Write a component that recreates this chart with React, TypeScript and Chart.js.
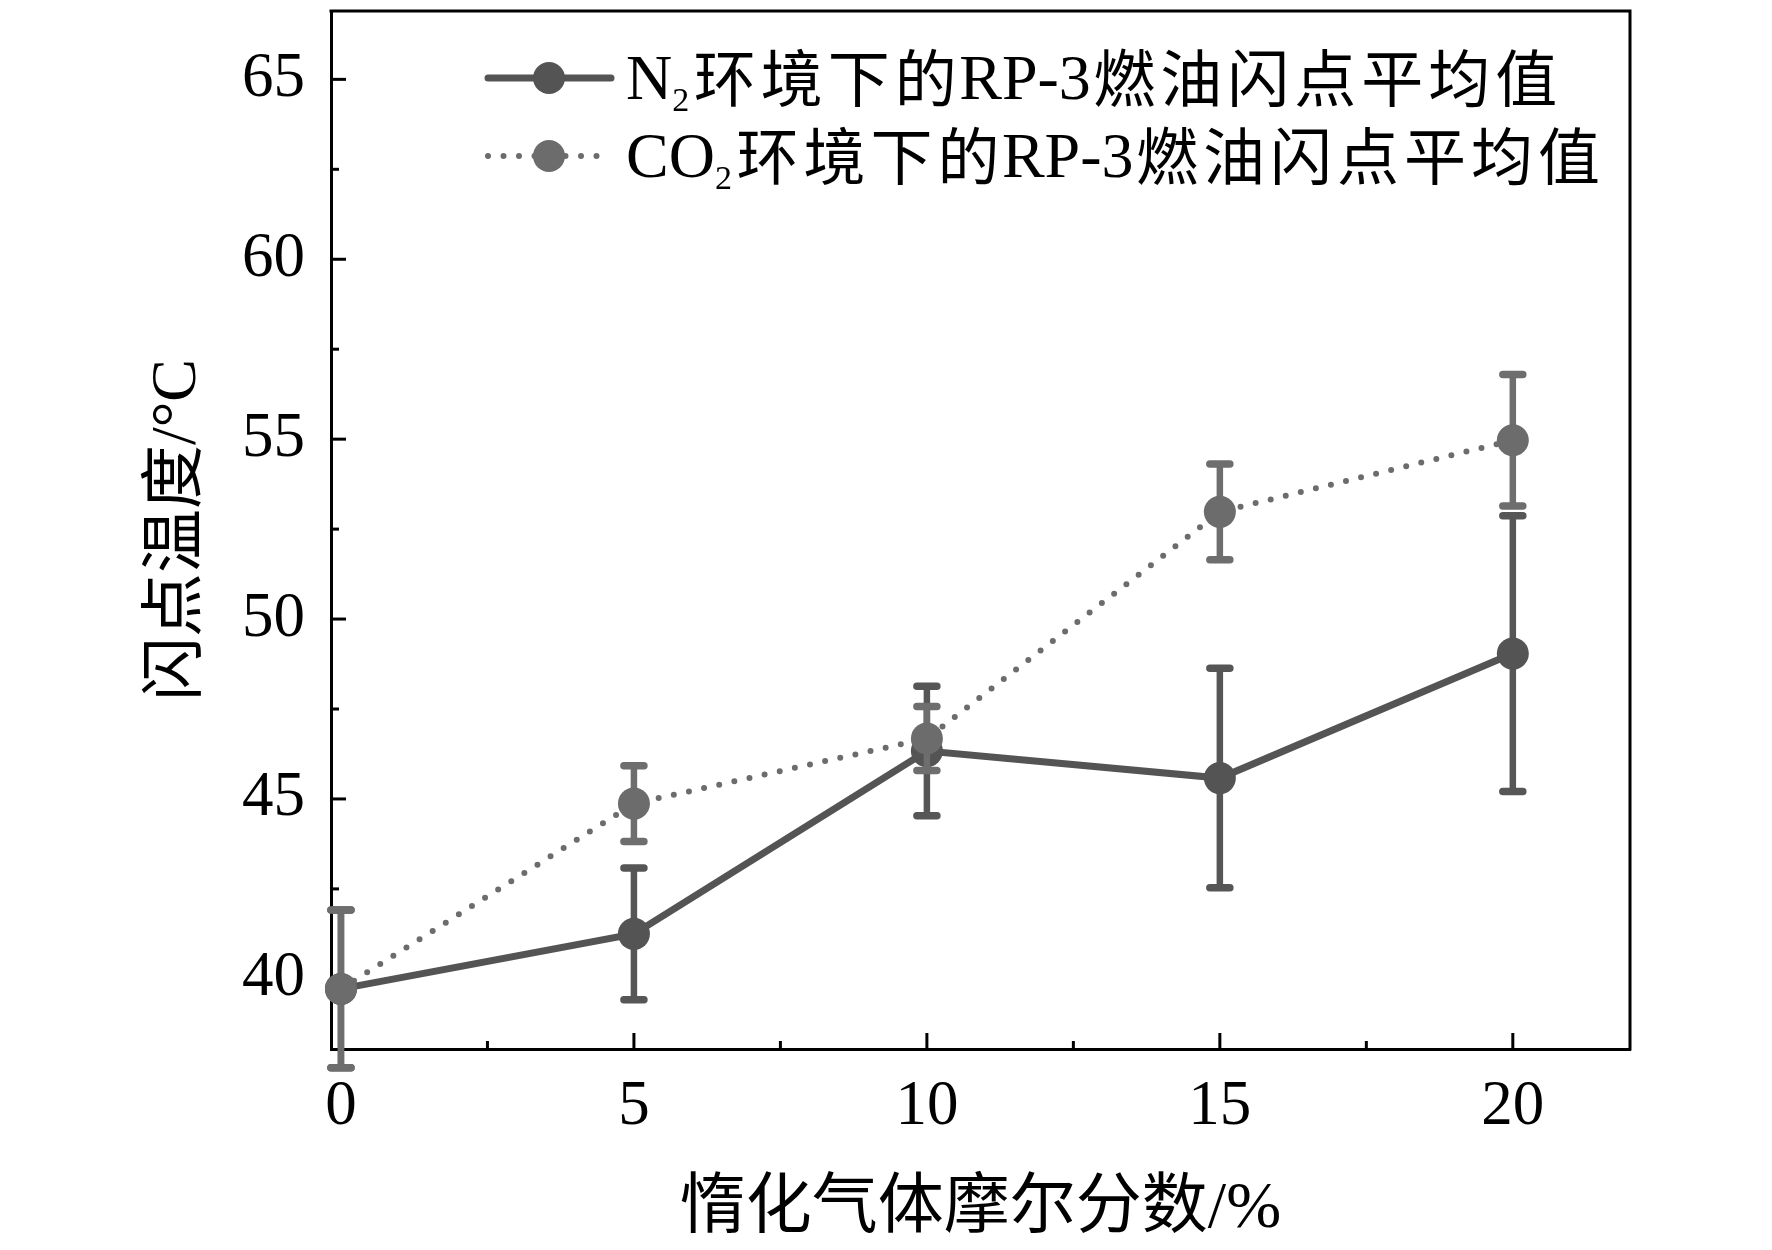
import React, { useEffect, useRef } from 'react';
import { Chart, registerables } from 'chart.js';

Chart.register(...registerables);

// ---- data ----
const xValues = [0, 5, 10, 15, 20];
const n2Mean = [39.72, 41.25, 46.33, 45.58, 49.04];
const n2Err = [2.19, 1.83, 1.8, 3.05, 3.83];
const co2Mean = [39.72, 44.87, 46.68, 52.98, 54.97];
const co2Err = [2.19, 1.05, 0.89, 1.33, 1.83];

const xTickValues = [0, 5, 10, 15, 20];
const xMinorTicks = [2.5, 7.5, 12.5, 17.5];
const yTickValues = [40, 45, 50, 55, 60, 65];
const yMinorTicks = [42.5, 47.5, 52.5, 57.5, 62.5];

const n2Label = 'N₂环境下的RP-3燃油闪点平均值';
const co2Label = 'CO₂环境下的RP-3燃油闪点平均值';
const xTitle = '惰化气体摩尔分数/%';
const yTitle = '闪点温度/°C';

// ---- styles ----
const SERIF = '"Liberation Serif", "Times New Roman", serif';
const CJK = '"Noto Sans CJK SC", sans-serif';
const MIXED = '"Liberation Serif", "Noto Sans CJK SC", serif';
const N2_COLOR = '#545454';
const CO2_COLOR = '#6c6c6c';

function drawRichText(ctx: CanvasRenderingContext2D, text: string, x0: number, baseline: number) {
  let x = x0;
  ctx.textAlign = 'left';
  ctx.textBaseline = 'alphabetic';
  ctx.fillStyle = '#000';
  for (const ch of text) {
    if (ch === '₂') {
      ctx.font = `34px ${SERIF}`;
      ctx.fillText('2', x, baseline + 12);
      x += ctx.measureText('2').width + 2;
    } else if (ch.charCodeAt(0) > 0x2e80) {
      ctx.font = `62px ${CJK}`;
      const adv = 67;
      const w = ctx.measureText(ch).width;
      ctx.fillText(ch, x + (adv - w) / 2, baseline + 3);
      x += adv;
    } else {
      ctx.font = `64px ${SERIF}`;
      ctx.fillText(ch, x, baseline);
      x += ctx.measureText(ch).width;
    }
  }
}

export default function App() {
  const ref = useRef<HTMLCanvasElement | null>(null);

  useEffect(() => {
    const canvas = ref.current;
    if (!canvas) return;

    const frameTicksPlugin = {
      id: 'frameTicks',
      beforeDatasetsDraw(chart: any) {
        const { ctx, chartArea: a, scales } = chart;
        ctx.save();
        ctx.strokeStyle = '#000';
        ctx.lineWidth = 3;
        ctx.lineCap = 'butt';
        ctx.beginPath();
        ctx.moveTo(a.left - 1.5, a.top);
        ctx.lineTo(a.right, a.top);
        ctx.moveTo(a.right, a.top - 1.5);
        ctx.lineTo(a.right, a.bottom + 1.5);
        ctx.stroke();
        const xs = scales.x;
        const ys = scales.y;
        const xt = (vals: number[], len: number) =>
          vals.forEach((v) => {
            const px = xs.getPixelForValue(v);
            ctx.beginPath();
            ctx.moveTo(px, a.bottom);
            ctx.lineTo(px, a.bottom - len);
            ctx.stroke();
          });
        const yt = (vals: number[], len: number) =>
          vals.forEach((v) => {
            const py = ys.getPixelForValue(v);
            ctx.beginPath();
            ctx.moveTo(a.left, py);
            ctx.lineTo(a.left + len, py);
            ctx.stroke();
          });
        xt(xTickValues, 16);
        xt(xMinorTicks, 8);
        yt(yTickValues, 15);
        yt(yMinorTicks, 8);
        ctx.restore();
      },
    };

    const errorBarPlugin = {
      id: 'errorBars',
      beforeDatasetDraw(chart: any, args: any) {
        const ds: any = chart.data.datasets[args.index];
        const errs: number[] = ds.errors;
        if (!errs) return;
        const { ctx, scales } = chart;
        ctx.save();
        ctx.strokeStyle = ds.errorColor;
        ctx.setLineDash([]);
        ds.data.forEach((p: any, i: number) => {
          const e = errs[i];
          if (!e) return;
          const px = scales.x.getPixelForValue(p.x);
          const pt = scales.y.getPixelForValue(p.y + e);
          const pb = scales.y.getPixelForValue(p.y - e);
          ctx.lineCap = 'butt';
          ctx.lineWidth = 6.5;
          ctx.beginPath();
          ctx.moveTo(px, pt);
          ctx.lineTo(px, pb);
          ctx.stroke();
          ctx.lineCap = 'round';
          ctx.lineWidth = 7.5;
          ctx.beginPath();
          ctx.moveTo(px - 10, pt);
          ctx.lineTo(px + 10, pt);
          ctx.moveTo(px - 10, pb);
          ctx.lineTo(px + 10, pb);
          ctx.stroke();
        });
        ctx.restore();
      },
    };

    const legendPlugin = {
      id: 'customLegend',
      afterDraw(chart: any) {
        const { ctx, chartArea: a } = chart;
        const rows = [
          { label: n2Label, color: N2_COLOR, dash: [] as number[], w: 7, y: a.top + 67 },
          { label: co2Label, color: CO2_COLOR, dash: [0, 15.5], w: 6, y: a.top + 145 },
        ];
        rows.forEach((r) => {
          const lx0 = a.left + 157;
          const lx1 = a.left + 280;
          const mx = a.left + 218;
          ctx.save();
          ctx.strokeStyle = r.color;
          ctx.lineWidth = r.w;
          ctx.lineCap = 'round';
          ctx.setLineDash(r.dash);
          ctx.beginPath();
          ctx.moveTo(lx0, r.y);
          ctx.lineTo(lx1, r.y);
          ctx.stroke();
          ctx.setLineDash([]);
          ctx.fillStyle = r.color;
          ctx.beginPath();
          ctx.arc(mx, r.y, 16, 0, Math.PI * 2);
          ctx.fill();
          drawRichText(ctx, r.label, a.left + 295, r.y + 21);
          ctx.restore();
        });
      },
    };

    const chart = new Chart(canvas, {
      type: 'line',
      data: {
        datasets: [
          {
            label: n2Label,
            data: xValues.map((x, i) => ({ x, y: n2Mean[i] })),
            borderColor: N2_COLOR,
            backgroundColor: N2_COLOR,
            borderWidth: 7,
            pointRadius: 16,
            pointBorderWidth: 0,
            pointBackgroundColor: N2_COLOR,
            tension: 0,
            clip: false,
            order: 1,
            errors: n2Err,
            errorColor: '#565656',
          } as any,
          {
            label: co2Label,
            data: xValues.map((x, i) => ({ x, y: co2Mean[i] })),
            borderColor: CO2_COLOR,
            backgroundColor: CO2_COLOR,
            borderWidth: 6,
            borderDash: [0, 15.5],
            borderCapStyle: 'round',
            pointRadius: 16,
            pointBorderWidth: 0,
            pointBackgroundColor: CO2_COLOR,
            tension: 0,
            clip: false,
            order: 0,
            errors: co2Err,
            errorColor: '#6e6e6e',
          } as any,
        ],
      },
      options: {
        animation: false,
        responsive: true,
        maintainAspectRatio: false,
        layout: { autoPadding: false, padding: { top: 11, right: 142, left: 0, bottom: 0 } },
        plugins: { legend: { display: false }, tooltip: { enabled: false } },
        scales: {
          x: {
            type: 'linear',
            min: -0.17,
            max: 22,
            afterBuildTicks: (s: any) => {
              s.ticks = xTickValues.map((v) => ({ value: v }));
            },
            afterFit: (s: any) => {
              s.height = 201;
              s.paddingLeft = 0;
              s.paddingRight = 0;
            },
            grid: { display: false, drawTicks: false },
            border: { display: true, color: '#000', width: 3 },
            ticks: {
              color: '#000',
              font: { family: SERIF, size: 63 },
              padding: 21,
              maxRotation: 0,
              autoSkip: false,
            },
            title: {
              display: true,
              text: xTitle,
              color: '#000',
              font: { family: MIXED, size: 66 },
              padding: { top: 0, bottom: 1 },
            },
          },
          y: {
            type: 'linear',
            min: 38.05,
            max: 66.9,
            afterBuildTicks: (s: any) => {
              s.ticks = yTickValues.map((v) => ({ value: v }));
            },
            afterFit: (s: any) => {
              s.width = 331;
              s.paddingTop = 0;
              s.paddingBottom = 0;
            },
            grid: { display: false, drawTicks: false },
            border: { display: true, color: '#000', width: 3 },
            ticks: {
              color: '#000',
              font: { family: SERIF, size: 63 },
              padding: 26,
              autoSkip: false,
            },
            title: {
              display: true,
              text: yTitle,
              color: '#000',
              font: { family: MIXED, size: 64 },
              padding: { top: 140, bottom: 0 },
            },
          },
        },
      } as any,
      plugins: [frameTicksPlugin, errorBarPlugin, legendPlugin],
    });

    return () => chart.destroy();
  }, []);

  return (
    <div
      style={{
        position: 'absolute',
        left: 0,
        top: 0,
        width: '1772px',
        height: '1250px',
        background: '#fff',
      }}
    >
      <canvas ref={ref} />
    </div>
  );
}
